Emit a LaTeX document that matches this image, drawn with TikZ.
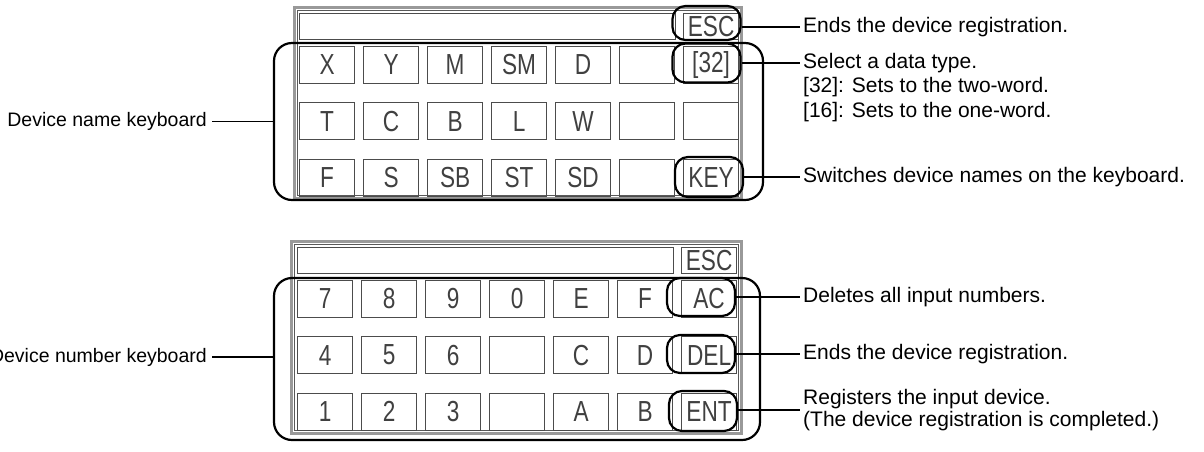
\documentclass[tikz,border=0pt]{standalone}
\usepackage{fontspec}
\setmainfont{Liberation Sans}
\newfontfamily\keyfont[FakeStretch=0.78]{Liberation Sans}
\begin{document}
\begin{tikzpicture}[x=1pt,y=-1pt,
  key/.style={draw=black!70, line width=1.2pt, minimum width=55pt, minimum height=37pt, inner sep=0pt, anchor=north west, font=\keyfont\fontsize{29}{29}\selectfont, text=black!75},
  field/.style={draw=black!70, line width=1.2pt, inner sep=0pt, anchor=north west},
  hl/.style={draw=black, line width=2.2pt, rounded corners=13pt, minimum width=68pt, minimum height=38pt, inner sep=0pt},
  brk/.style={draw=black, line width=2.2pt, rounded corners=18pt, inner sep=0pt},
  lbl/.style={font=\fontsize{21}{24}\selectfont, inner sep=3pt, text=black, align=left},
  lbll/.style={font=\fontsize{19.5}{24}\selectfont, inner sep=5pt, text=black},
  con/.style={draw=black, line width=1.2pt},
  frameout/.style={draw=black!40, line width=3pt},
  framein/.style={draw=black!65, line width=0.9pt}]
\useasboundingbox (0,0) rectangle (1204,451);

% ---------- top panel ----------
\draw[frameout] (294.5,7.5) rectangle (741.5,198.5);
\draw[framein] (297.5,10.5) rectangle (738.5,195.5);
\node[field, minimum width=376pt, minimum height=26pt] (f1) at (299,12.5) {};
\node[key, minimum height=26pt] (esc1) at (683,12.5) {ESC};
\foreach \lab [count=\i from 0] in {X,Y,M,SM,D,{},{[32]}}
  \node[key] (a1-\i) at (299+64*\i,45.5) {\lab};
\foreach \lab [count=\i from 0] in {T,C,B,L,W,{},{}}
  \node[key] (a2-\i) at (299+64*\i,102) {\lab};
\foreach \lab [count=\i from 0] in {F,S,SB,ST,SD,{},KEY}
  \node[key] (a3-\i) at (299+64*\i,158.5) {\lab};

\node[brk, minimum width=489pt, minimum height=157pt] (bN) at (518.5,121.5) {};
\node[hl, minimum height=34pt] (oEsc) at (706.5,23) {};
\node[hl, minimum height=39pt] (o32) at (706.5,63) {};
\node[hl, minimum height=40pt] (oKey) at (709,177) {};

\node[lbl, anchor=west] (tEsc) at (800,27) {Ends the device registration.};
\node[lbl, anchor=west] (t32) at (800,63) {Select a data type.};
\node[lbl, anchor=west] (t32b) at (800,87.5) {[32]: Sets to the two-word.};
\node[lbl, anchor=west] (t32c) at (800,112) {[16]: Sets to the one-word.};
\node[lbl, anchor=west] (tKey) at (800,177) {Switches device names on the keyboard.};
\node[lbll, anchor=east] (lN) at (212,121.5) {Device name keyboard};

\draw[con] (oEsc.east |- tEsc.west) -- (tEsc.west);
\draw[con] (o32.east) -- (t32.west);
\draw[con] (oKey.east) -- (tKey.west);
\draw[con] (lN.east) -- (bN.west);

% ---------- bottom panel ----------
\draw[frameout] (291.5,241.5) rectangle (741.5,433.5);
\draw[framein] (294.5,244.5) rectangle (738.5,430.5);
\node[field, minimum width=376pt, minimum height=26pt] (f2) at (297,246.5) {};
\node[key, minimum height=26pt] (esc2) at (681,246.5) {ESC};
\foreach \lab [count=\i from 0] in {7,8,9,0,E,F,AC}
  \node[key] (b1-\i) at (297+64*\i,279.5) {\lab};
\foreach \lab [count=\i from 0] in {4,5,6,{},C,D,DEL}
  \node[key] (b2-\i) at (297+64*\i,336) {\lab};
\foreach \lab [count=\i from 0] in {1,2,3,{},A,B,ENT}
  \node[key] (b3-\i) at (297+64*\i,392.5) {\lab};

\node[brk, minimum width=486pt, minimum height=162pt] (bD) at (517,359) {};
\node[hl] (oAC) at (701,297) {};
\node[hl] (oDel) at (701,354) {};
\node[hl, minimum height=40pt] (oEnt) at (703,411) {};

\node[lbl, anchor=west] (tAC) at (800,297) {Deletes all input numbers.};
\node[lbl, anchor=west] (tDel) at (800,354) {Ends the device registration.};
\node[lbl, anchor=west, font=\fontsize{21}{22}\selectfont] (tEnt) at (800,410) {Registers the input device.\\(The device registration is completed.)};
\node[lbll, anchor=east] (lD) at (212,357) {Device number keyboard};

\draw[con] (oAC.east) -- (tAC.west);
\draw[con] (oDel.east) -- (tDel.west);
\draw[con] (oEnt.east |- tEnt.west) -- (tEnt.west);
\draw[con] (lD.east) -- (bD.west |- lD.east);
\end{tikzpicture}
\end{document}
